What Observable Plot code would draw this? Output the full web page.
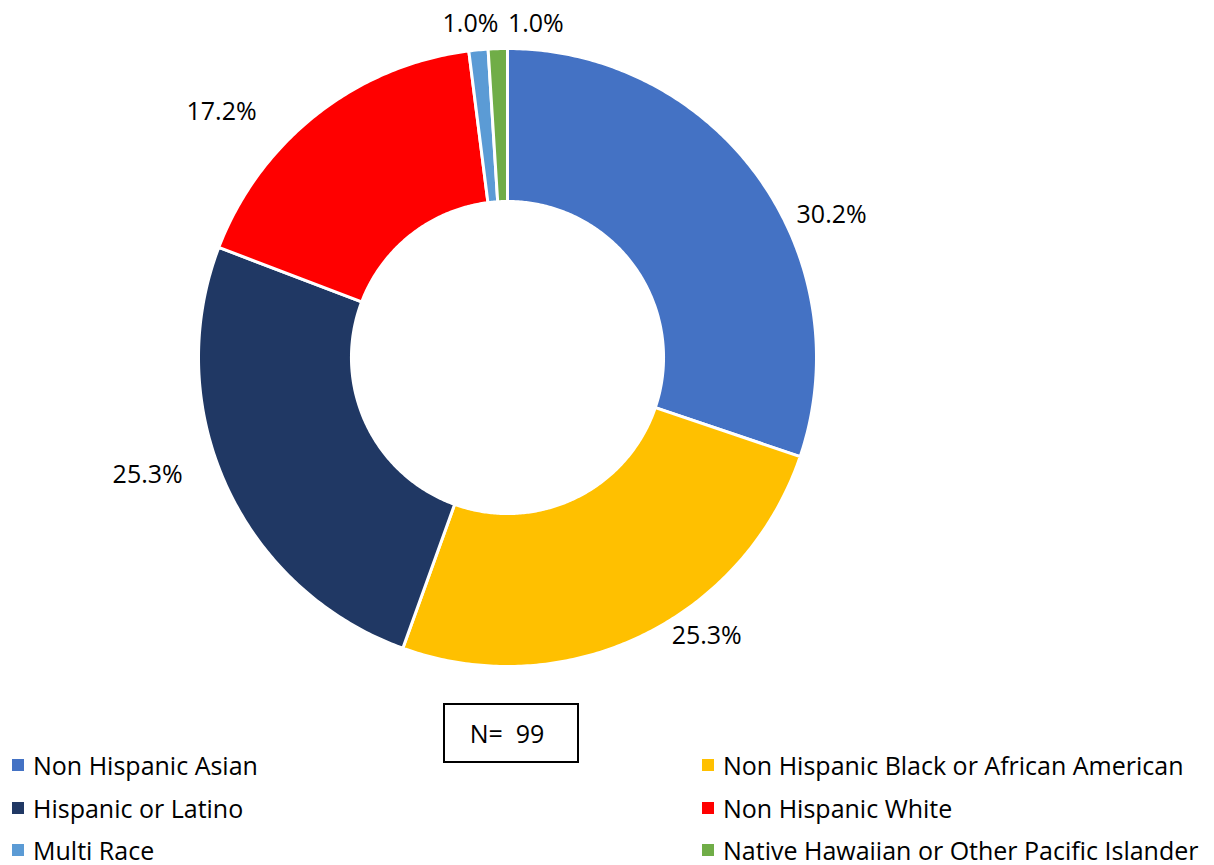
<!DOCTYPE html>
<html>
<head>
<meta charset="utf-8">
<script src="https://cdn.jsdelivr.net/npm/d3@7"></script>
<script src="https://cdn.jsdelivr.net/npm/@observablehq/plot@0.6"></script>
<style>
  html, body { margin: 0; padding: 0; background: #fff; }
  body { width: 1214px; height: 865px; position: relative; overflow: hidden;
         font-family: "Segoe UI", "Open Sans", "Noto Sans", sans-serif; color: #000; }
  #chart { position: absolute; left: 0; top: 0; }
  .nbox { position: absolute; left: 443px; top: 703px; width: 132px; height: 56px;
          border: 2px solid #000; font-size: 25px; display: flex; align-items: center;
          justify-content: center; box-sizing: content-box; padding-right: 8px; width: 124px; }
  .leg { position: absolute; font-size: 25px; line-height: 1; white-space: nowrap;
         display: flex; align-items: center; }
  .leg i { display: inline-block; width: 12px; height: 12px; margin-right: 9px; }
</style>
</head>
<body>
<div id="chart"></div>
<script>
// ---- data ----
const categories = [
  "Non Hispanic Asian",
  "Non Hispanic Black or African American",
  "Hispanic or Latino",
  "Non Hispanic White",
  "Multi Race",
  "Native Hawaiian or Other Pacific Islander"
];
const values = [30.2, 25.3, 25.3, 17.2, 1.0, 1.0];
const colors = ["#4472C4", "#FFC000", "#203864", "#FF0000", "#5B9BD5", "#70AD47"];
const sampleSize = 99;

// ---- layout (pixels) ----
const W = 1214, H = 865;
const cx = 507, cy = 357, R = 309, innerRatio = 0.505;
// label nudges (px) from the slice's outer mid-point
const labelNudge = [[73, 38], [65, 0], [-79, -11], [-95, -3], [-8, -26], [38, -25]];

const total = d3.sum(values);
let acc = 0;
const slices = values.map((v, i) => {
  const a0 = acc / total * 2 * Math.PI;
  acc += v;
  const a1 = acc / total * 2 * Math.PI;
  return {name: categories[i], value: v, a0, a1, mid: (a0 + a1) / 2, i};
});

// polar (clockwise from 12 o'clock) -> unit-plane coordinates (y up)
const pt = (a, r) => [Math.sin(a) * r, Math.cos(a) * r];

const features = slices.map(s => {
  const n = Math.max(8, Math.ceil((s.a1 - s.a0) / 0.01));
  const ring = [];
  for (let k = 0; k <= n; ++k) ring.push(pt(s.a0 + (s.a1 - s.a0) * k / n, 1));
  for (let k = n; k >= 0; --k) ring.push(pt(s.a0 + (s.a1 - s.a0) * k / n, innerRatio));
  ring.push(ring[0]);
  return {type: "Feature", properties: {name: s.name}, geometry: {type: "Polygon", coordinates: [ring]}};
});

const labels = slices.map(s => {
  const [x, y] = pt(s.mid, 1);
  const [nx, ny] = labelNudge[s.i];
  return {x: x + nx / R, y: y - ny / R, text: s.value.toFixed(1) + "%"};
});

const chart = Plot.plot({
  width: W,
  height: H,
  marginLeft: cx - R,
  marginRight: W - (cx + R),
  marginTop: cy - R,
  marginBottom: H - (cy + R),
  projection: {type: "reflect-y", clip: false, domain: {type: "MultiPoint", coordinates: [[-1, -1], [1, 1]]}},
  color: {domain: categories, range: colors},
  style: {fontFamily: '"Segoe UI", "Open Sans", "Noto Sans", sans-serif', background: "white"},
  marks: [
    Plot.geo(features, {fill: d => d.properties.name, stroke: "white", strokeWidth: 3}),
    Plot.text(labels, {x: "x", y: "y", text: "text", fontSize: 25, fill: "black"})
  ]
});
document.getElementById("chart").appendChild(chart);

// N box
const nb = document.createElement("div");
nb.className = "nbox";
nb.textContent = `N=\u00a0 ${sampleSize}`;
document.body.appendChild(nb);

// legend (two columns, three rows)
const legX = [12, 702];
const legY = [765, 808, 850];
categories.forEach((c, i) => {
  const el = document.createElement("div");
  el.className = "leg";
  el.style.left = legX[i % 2] + "px";
  el.style.top = (legY[Math.floor(i / 2)] - 12) + "px";
  el.style.height = "24px";
  const sw = document.createElement("i");
  sw.style.background = colors[i];
  el.appendChild(sw);
  el.appendChild(document.createTextNode(c));
  document.body.appendChild(el);
});
</script>
</body>
</html>
